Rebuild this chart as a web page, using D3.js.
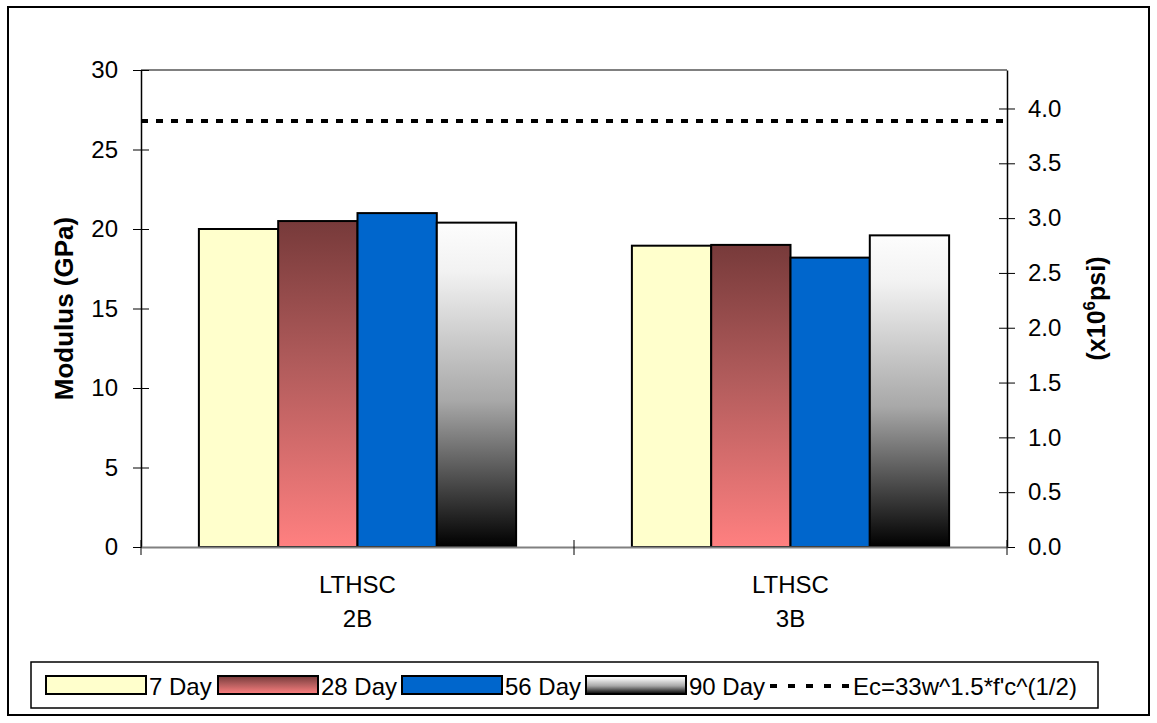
<!DOCTYPE html>
<html>
<head>
<meta charset="utf-8">
<script src="https://cdn.jsdelivr.net/npm/d3@7"></script>
<style>
  body { margin: 0; background: #fff; }
  text { font-family: "Liberation Sans", Arial, sans-serif; fill: #000; }
</style>
</head>
<body>
<div id="chart"></div>
<script>
// categories and series
const categories = ["LTHSC 2B", "LTHSC 3B"];
const categoryLines = [["LTHSC", "2B"], ["LTHSC", "3B"]];
const seriesNames = ["7 Day", "28 Day", "56 Day", "90 Day"];

// modulus values, GPa
const values7 = [20.0, 18.95];
const values28 = [20.5, 19.0];
const values56 = [21.0, 18.2];
const values90 = [20.4, 19.6];

// Ec = 33 w^1.5 f'c^(1/2), GPa
const ecValue = 26.8;
const ecLabel = "Ec=33w^1.5*f'c^(1/2)";

const leftTicks = [0, 5, 10, 15, 20, 25, 30];
const rightTicks = [0, 0.5, 1.0, 1.5, 2.0, 2.5, 3.0, 3.5, 4.0];
const gpaToMpsi = 0.145038;

const allValues = [values7, values28, values56, values90];

/**
 * set the dimensions and margins of the graph
 */
function graphDimensions() {
    const margin = {top: 70, right: 150, bottom: 176, left: 141};
    const width = 1157 - margin.left - margin.right;
    const height = 723 - margin.top - margin.bottom;
    return [width, height, margin];
}

function appendToDom(width, height, margin) {
    const root = d3.select("#chart").append("svg")
        .attr("width", width + margin.left + margin.right)
        .attr("height", height + margin.top + margin.bottom);
    // outer frame
    root.append("rect")
        .attr("x", 8).attr("y", 7)
        .attr("width", 1141).attr("height", 708)
        .attr("fill", "none").attr("stroke", "#000").attr("stroke-width", 2);
    return root;
}

function defineGradients(root) {
    const defs = root.append("defs");
    const g28 = defs.append("linearGradient").attr("id", "grad28")
        .attr("x1", 0).attr("y1", 0).attr("x2", 0).attr("y2", 1);
    g28.append("stop").attr("offset", "0%").attr("stop-color", "#773a3a");
    g28.append("stop").attr("offset", "45%").attr("stop-color", "#b25c5c");
    g28.append("stop").attr("offset", "100%").attr("stop-color", "#ff8080");

    const g90 = defs.append("linearGradient").attr("id", "grad90")
        .attr("x1", 0).attr("y1", 0).attr("x2", 0).attr("y2", 1);
    g90.append("stop").attr("offset", "0%").attr("stop-color", "#fdfdfd");
    g90.append("stop").attr("offset", "15%").attr("stop-color", "#f2f2f2");
    g90.append("stop").attr("offset", "55%").attr("stop-color", "#a8a8a8");
    g90.append("stop").attr("offset", "100%").attr("stop-color", "#000");
}

const fills = ["#ffffcc", "url(#grad28)", "#0066cc", "url(#grad90)"];

function drawAxes(svg, x0, y, yRight, width, height) {
    // top border of the plot area
    svg.append("line")
        .attr("x1", 0).attr("x2", width).attr("y1", 0).attr("y2", 0)
        .attr("stroke", "#808080").attr("stroke-width", 2);

    const left = svg.append("g")
        .call(d3.axisLeft(y).tickValues(leftTicks).tickSize(8).tickPadding(15).tickSizeOuter(0));
    left.selectAll(".tick line").attr("x2", 8).attr("x1", -8).attr("stroke", "#000");
    left.select(".domain").attr("stroke", "#000").attr("stroke-width", 1.5);
    left.selectAll("text").style("font-size", "24px");

    const right = svg.append("g")
        .attr("transform", "translate(" + width + ",0)")
        .call(d3.axisRight(yRight).tickValues(rightTicks).tickFormat(d3.format(".1f"))
            .tickSize(8).tickPadding(13).tickSizeOuter(0));
    right.selectAll(".tick line").attr("x1", -8).attr("x2", 8).attr("stroke", "#000");
    right.select(".domain").attr("stroke", "#000").attr("stroke-width", 1.5);
    right.selectAll("text").style("font-size", "24px");

    const bottom = svg.append("g")
        .attr("transform", "translate(0," + height + ")")
        .call(d3.axisBottom(x0).tickSize(0).tickFormat(""));
    bottom.select(".domain").attr("stroke", "#808080").attr("stroke-width", 2);

    // category boundaries
    const bounds = [0, x0.step(), width];
    svg.selectAll(".catTick").data(bounds).enter().append("line")
        .attr("x1", d => d).attr("x2", d => d)
        .attr("y1", height - 7).attr("y2", height + 8)
        .attr("stroke", "#000");

    const labels = svg.append("g");
    categories.forEach((c, i) => {
        const t = labels.append("text")
            .attr("text-anchor", "middle")
            .attr("x", x0(c) + x0.bandwidth() / 2)
            .style("font-size", "24px");
        categoryLines[i].forEach((line, j) => {
            t.append("tspan")
                .attr("x", x0(c) + x0.bandwidth() / 2)
                .attr("y", height + 46 + j * 34)
                .text(line);
        });
    });
}

function axisTitles(svg, width, height) {
    svg.append("text")
        .attr("text-anchor", "middle")
        .attr("transform", "translate(-68," + (height / 2) + ")rotate(-90)")
        .style("font-size", "26px").style("font-weight", "bold")
        .text("Modulus (GPa)");

    const r = svg.append("text")
        .attr("text-anchor", "middle")
        .attr("transform", "translate(" + (width + 98) + "," + (height / 2) + ")rotate(-90)")
        .style("font-size", "25px").style("font-weight", "bold");
    r.append("tspan").text("(x10");
    r.append("tspan").attr("dy", -10).style("font-size", "17px").text("6");
    r.append("tspan").attr("dy", 10).text("psi)");
}

function drawBars(svg, x0, x1, y) {
    const groups = svg.selectAll(".group")
        .data(categories).enter().append("g")
        .attr("transform", d => "translate(" + x0(d) + ",0)");

    groups.selectAll("rect")
        .data((c, i) => seriesNames.map((s, k) => ({series: s, k: k, value: allValues[k][i]})))
        .enter().append("rect")
        .attr("x", d => x1(d.series))
        .attr("width", x1.bandwidth())
        .attr("y", d => y(d.value))
        .attr("height", d => y(0) - y(d.value))
        .attr("fill", d => fills[d.k])
        .attr("stroke", "#000").attr("stroke-width", 2);
}

function drawEcLine(svg, y, width) {
    svg.append("line")
        .attr("x1", 0).attr("x2", width)
        .attr("y1", y(ecValue)).attr("y2", y(ecValue))
        .attr("stroke", "#000").attr("stroke-width", 4)
        .attr("stroke-dasharray", "7,8");
}

function drawLegend(root) {
    const lg = root.append("g");
    lg.append("rect")
        .attr("x", 31).attr("y", 662).attr("width", 1067).attr("height", 46)
        .attr("fill", "#fff").attr("stroke", "#000").attr("stroke-width", 1.5);

    const swatchX = [46, 218, 402, 586];
    seriesNames.forEach((s, k) => {
        lg.append("rect")
            .attr("x", swatchX[k]).attr("y", 676)
            .attr("width", 100).attr("height", 18)
            .attr("fill", fills[k]).attr("stroke", "#000").attr("stroke-width", 2);
        lg.append("text")
            .attr("x", swatchX[k] + 103).attr("y", 695)
            .style("font-size", "24px")
            .text(s);
    });
    lg.append("line")
        .attr("x1", 770).attr("x2", 850).attr("y1", 686).attr("y2", 686)
        .attr("stroke", "#000").attr("stroke-width", 4)
        .attr("stroke-dasharray", "7,11");
    lg.append("text")
        .attr("x", 853).attr("y", 695)
        .style("font-size", "24px")
        .text(ecLabel);
}

function drawGraph() {
    const [width, height, margin] = graphDimensions();
    const root = appendToDom(width, height, margin);
    defineGradients(root);
    const svg = root.append("g")
        .attr("transform", "translate(" + margin.left + "," + margin.top + ")");

    const x0 = d3.scaleBand().domain(categories).range([0, width]).padding(0);
    const x1 = d3.scaleBand().domain(seriesNames).range([0, x0.bandwidth()])
        .paddingInner(0).paddingOuter(0.73);
    const y = d3.scaleLinear().domain([0, 30]).range([height, 0]);
    const yRight = d3.scaleLinear().domain([0, 30 * gpaToMpsi]).range([height, 0]);

    drawBars(svg, x0, x1, y);
    drawEcLine(svg, y, width);
    drawAxes(svg, x0, y, yRight, width, height);
    axisTitles(svg, width, height);
    drawLegend(root);
}

drawGraph();
</script>
</body>
</html>
